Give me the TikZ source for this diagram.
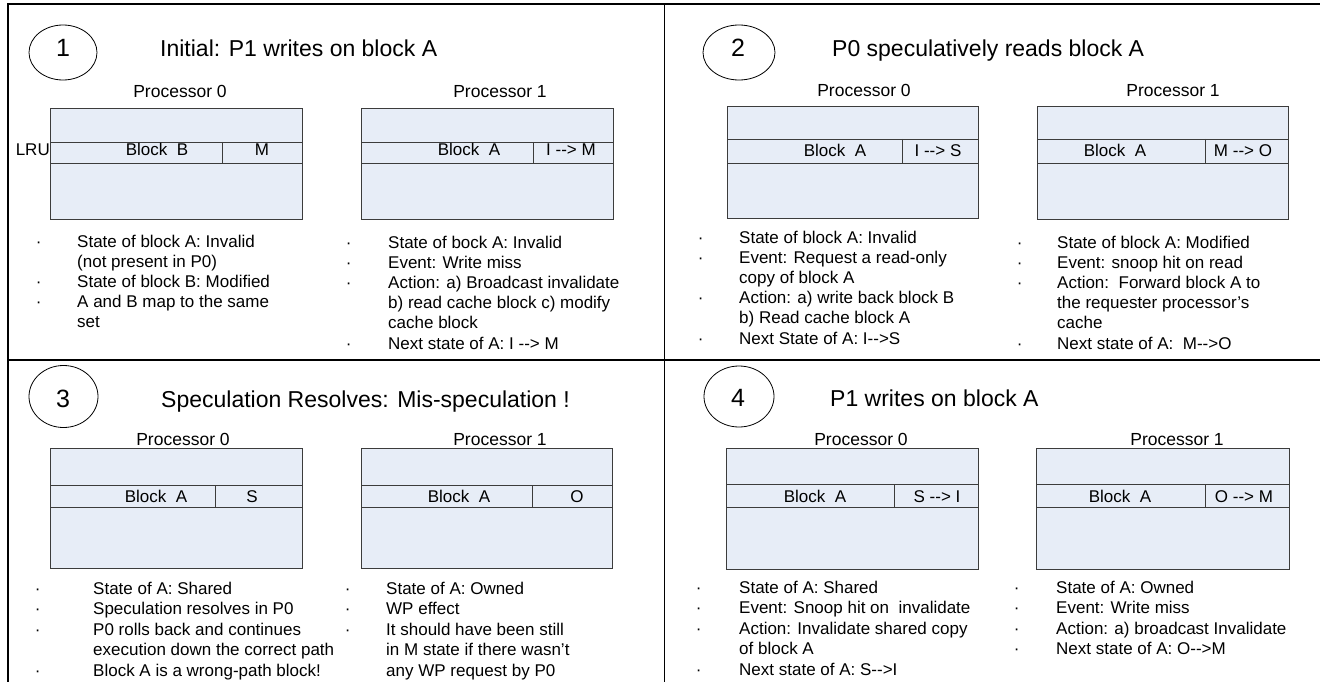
\documentclass[tikz,border=0pt]{standalone}
\usepackage{fontspec}
\newfontfamily\lsans{Liberation Sans}
\usetikzlibrary{shapes.geometric}

\definecolor{cachefill}{RGB}{231,237,247}
\definecolor{cacheedge}{RGB}{60,60,60}

\tikzset{
  frame/.style={line width=1.6pt, black},
  cache/.style={draw=cacheedge, fill=cachefill, line width=0.9pt},
  cacherow/.style={draw=cacheedge, line width=0.9pt},
  stagenum/.style={draw, ellipse, line width=0.8pt, inner sep=0pt},
  stagedigit/.style={anchor=base, inner sep=0pt, font=\lsans\fontsize{25}{30}\selectfont},
  stagetitle/.style={anchor=base west, inner sep=0pt, font=\lsans\fontsize{23}{28}\selectfont},
  proclabel/.style={anchor=base, inner sep=0pt, font=\lsans\fontsize{17.5}{21}\selectfont},
  celltext/.style={anchor=base, inner sep=0pt, font=\lsans\fontsize{17}{20}\selectfont},
  notes/.style={anchor=base west, inner sep=0pt, font=\lsans\fontsize{17}{20.2}\selectfont},
  notesb/.style={anchor=base west, inner sep=0pt, font=\lsans\fontsize{17}{20.6}\selectfont},
}

\begin{document}
\begin{tikzpicture}[x=1pt, y=-1pt]
\useasboundingbox (0,0) rectangle (1320,682);
\fill[white] (0,0) rectangle (1320,682);

% panel frame
\draw[frame] (8,682) -- (8,4) -- (1320,4);
\draw[frame] (664.5,4) -- (664.5,682);
\draw[frame] (8,360) -- (1320,360);

% ---------------- stage 1 ----------------
\node[stagenum, minimum width=68pt, minimum height=55pt] (c1) at (63,52.5) {};
\node[stagedigit] (d1) at (63,57) {1};
\node[stagetitle] (t1) at (160,57) {Initial: P1 writes on block A};
\node[proclabel] (s1p0) at (180,98) {Processor 0};
\node[proclabel] (s1p1) at (500,98) {Processor 1};

\draw[cache] (50,108) rectangle (302,219);
\draw[cacherow] (50,142) -- (302,142) (50,163) -- (302,163) (222,142) -- (222,163);
\node[celltext, anchor=base east] (lru) at (50,156) {LRU};
\node[celltext] (s1p0b) at (157,156) {Block\ \ B};
\node[celltext] (s1p0s) at (262,156) {M};

\draw[cache] (361,108) rectangle (613,219);
\draw[cacherow] (361,142) -- (613,142) (361,163) -- (613,163) (533,142) -- (533,163);
\node[celltext] (s1p1b) at (469,156) {Block\ \ A};
\node[celltext] (s1p1s) at (571,156) {I --> M};

\node[notes] (n1a) at (35.6,247) {\begin{tabular}[t]{@{}p{41.4pt}@{}l@{}}
· & State of block A: Invalid\\
  & (not present in P0)\\
· & State of block B: Modified\\
· & A and B map to the same\\
  & set
\end{tabular}};
\node[notes] (n1b) at (345.6,248) {\begin{tabular}[t]{@{}p{42.4pt}@{}l@{}}
· & State of bock A: Invalid\\
· & Event: Write miss\\
· & Action: a) Broadcast invalidate\\
  & b) read cache block c) modify\\
  & cache block\\
· & Next state of A: I --> M
\end{tabular}};

% ---------------- stage 2 ----------------
\node[stagenum, minimum width=72pt, minimum height=55pt] (c2) at (739,52.5) {};
\node[stagedigit] (d2) at (738,57) {2};
\node[stagetitle] (t2) at (832,57) {P0 speculatively reads block A};
\node[proclabel] (s2p0) at (864,97) {Processor 0};
\node[proclabel] (s2p1) at (1173,97) {Processor 1};

\draw[cache] (727,106) rectangle (978,218);
\draw[cacherow] (727,139) -- (978,139) (727,163) -- (978,163) (902,139) -- (902,163);
\node[celltext] (s2p0b) at (835,157) {Block\ \ A};
\node[celltext] (s2p0s) at (938,157) {I --> S};

\draw[cache] (1037,106) rectangle (1288,219);
\draw[cacherow] (1037,139) -- (1288,139) (1037,163) -- (1288,163) (1205,139) -- (1205,163);
\node[celltext] (s2p1b) at (1115,157) {Block\ \ A};
\node[celltext] (s2p1s) at (1243,157) {M --> O};

\node[notes] (n2a) at (697.6,243) {\begin{tabular}[t]{@{}p{41.4pt}@{}l@{}}
· & State of block A: Invalid\\
· & Event: Request a read-only\\
  & copy of block A\\
· & Action: a) write back block B\\
  & b) Read cache block A\\
· & Next State of A: I-->S
\end{tabular}};
\node[notes] (n2b) at (1016.6,248) {\begin{tabular}[t]{@{}p{40.4pt}@{}l@{}}
· & State of block A: Modified\\
· & Event: snoop hit on read\\
· & Action:\ \ Forward block A to\\
  & the requester processor’s\\
  & cache\\
· & Next state of A:\ \ M-->O
\end{tabular}};

% ---------------- stage 3 ----------------
\node[stagenum, minimum width=69pt, minimum height=62pt] (c3) at (63.5,396.5) {};
\node[stagedigit] (d3) at (63,407) {3};
\node[stagetitle] (t3) at (161,407) {Speculation Resolves: Mis-speculation !};
\node[proclabel] (s3p0) at (183,445) {Processor 0};
\node[proclabel] (s3p1) at (500,445) {Processor 1};

\draw[cache] (50,448) rectangle (302,568);
\draw[cacherow] (50,485) -- (302,485) (50,507) -- (302,507) (215,485) -- (215,507);
\node[celltext] (s3p0b) at (156,502) {Block\ \ A};
\node[celltext] (s3p0s) at (252,502) {S};

\draw[cache] (361,448) rectangle (612,568);
\draw[cacherow] (361,485) -- (612,485) (361,507) -- (612,507) (532,485) -- (532,507);
\node[celltext] (s3p1b) at (459,502) {Block\ \ A};
\node[celltext] (s3p1s) at (577,502) {O};

\node[notesb] (n3a) at (34.6,594) {\begin{tabular}[t]{@{}p{58.4pt}@{}l@{}}
· & State of A: Shared\\
· & Speculation resolves in P0\\
· & P0 rolls back and continues\\
  & execution down the correct path\\
· & Block A is a wrong-path block!
\end{tabular}};
\node[notesb] (n3b) at (344.6,594) {\begin{tabular}[t]{@{}p{41.4pt}@{}l@{}}
· & State of A: Owned\\
· & WP effect\\
· & It should have been still\\
  & in M state if there wasn’t\\
  & any WP request by P0
\end{tabular}};

% ---------------- stage 4 ----------------
\node[stagenum, minimum width=70pt, minimum height=61pt] (c4) at (739,396.5) {};
\node[stagedigit] (d4) at (738,406) {4};
\node[stagetitle] (t4) at (830,406) {P1 writes on block A};
\node[proclabel] (s4p0) at (861,445) {Processor 0};
\node[proclabel] (s4p1) at (1177,445) {Processor 1};

\draw[cache] (726,448) rectangle (978,569);
\draw[cacherow] (726,484) -- (978,484) (726,507) -- (978,507) (894,484) -- (894,507);
\node[celltext] (s4p0b) at (815,502) {Block\ \ A};
\node[celltext] (s4p0s) at (937,502) {S --> I};

\draw[cache] (1036,448) rectangle (1289,569);
\draw[cacherow] (1036,484) -- (1289,484) (1036,507) -- (1289,507) (1205,484) -- (1205,507);
\node[celltext] (s4p1b) at (1120,502) {Block\ \ A};
\node[celltext] (s4p1s) at (1244,502) {O --> M};

\node[notesb] (n4a) at (695.6,593) {\begin{tabular}[t]{@{}p{43.4pt}@{}l@{}}
· & State of A: Shared\\
· & Event: Snoop hit on\ \ invalidate\\
· & Action: Invalidate shared copy\\
  & of block A\\
· & Next state of A: S-->I
\end{tabular}};
\node[notesb] (n4b) at (1013.6,593) {\begin{tabular}[t]{@{}p{42.4pt}@{}l@{}}
· & State of A: Owned\\
· & Event: Write miss\\
· & Action: a) broadcast Invalidate\\
· & Next state of A: O-->M
\end{tabular}};
\end{tikzpicture}
\end{document}
